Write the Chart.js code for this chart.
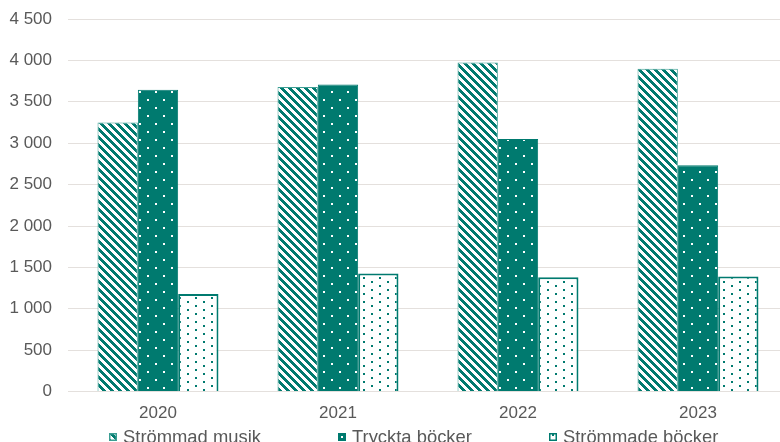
<!DOCTYPE html>
<html>
<head>
<meta charset="utf-8">
<script src="https://cdn.jsdelivr.net/npm/chart.js@4.4.1/dist/chart.umd.min.js"></script>
<style>
  body { margin: 0; overflow: hidden; background: #fff; }
  #wrap { position: relative; width: 788px; height: 442px; }
  #legend {
    position: absolute; left: 109px; top: 427px;
    display: flex; gap: 77px;
    font: 18.4px "Liberation Sans", Arial, sans-serif; line-height: 20px;
    color: #595959; white-space: nowrap;
  }
  .item { display: flex; align-items: center; }
  .item canvas { margin-right: 6px; }
</style>
</head>
<body>
<div id="wrap">
  <canvas id="chart" width="788" height="442"></canvas>
  <div id="legend"></div>
</div>
<script>
const years = ["2020", "2021", "2022", "2023"];
const streamedMusic = [3250, 3680, 3975, 3900];
const printedBooks = [3645, 3710, 3050, 2735];
const streamedBooks = [1180, 1425, 1380, 1390];
const yMax = 4500, yStep = 500;

const teal = "#007a6f";
const grey = "#595959";
const font = "'Liberation Sans', Arial, sans-serif";

const canvas = document.getElementById("chart");
const ctx = canvas.getContext("2d");

function makePattern(w, h, draw) {
    const c = document.createElement("canvas");
    c.width = w; c.height = h;
    draw(c.getContext("2d"));
    return ctx.createPattern(c, "repeat");
}

// diagonal stripes, down to the right
const stripes = makePattern(8, 8, g => {
    g.fillStyle = "#fff"; g.fillRect(0, 0, 8, 8);
    g.fillStyle = teal;
    for (let y = 0; y < 8; y++)
        for (let x = 0; x < 8; x++)
            if ((x - y + 8) % 8 < 4) g.fillRect(x, y, 1, 1);
});

// white dots on teal
const dotsDark = makePattern(16, 16, g => {
    g.fillStyle = teal; g.fillRect(0, 0, 16, 16);
    g.fillStyle = "#fff";
    g.fillRect(3, 3, 2, 2);
    g.fillRect(11, 11, 2, 2);
});

// teal dots on white
const dotsLight = makePattern(16, 8, g => {
    g.fillStyle = "#fff"; g.fillRect(0, 0, 16, 8);
    g.fillStyle = teal;
    g.fillRect(3, 1, 2, 2);
    g.fillRect(11, 5, 2, 2);
});

const chart = new Chart(ctx, {
    type: "bar",
    data: {
        labels: years,
        datasets: [
            { label: "Strömmad musik", data: streamedMusic, backgroundColor: stripes, borderColor: "#3c9e93", borderWidth: 1 },
            { label: "Tryckta böcker", data: printedBooks, backgroundColor: dotsDark, borderColor: teal, borderWidth: 1 },
            { label: "Strömmade böcker", data: streamedBooks, backgroundColor: dotsLight, borderColor: teal, borderWidth: 2 }
        ]
    },
    options: {
        responsive: false,
        animation: false,
        layout: { padding: { top: 19, right: 0, bottom: 6, left: 0 } },
        datasets: { bar: { categoryPercentage: 0.672, barPercentage: 1 } },
        plugins: { legend: { display: false }, tooltip: { enabled: false } },
        scales: {
            x: {
                grid: { display: false, drawTicks: false },
                border: { display: false },
                ticks: { color: grey, font: { family: font, size: 17 }, padding: 12 }
            },
            y: {
                min: 0,
                max: yMax,
                // invisible tick marks keep the labels away from the plot
                grid: { color: "#e4e0dd", drawTicks: true, tickLength: 10, tickColor: "rgba(0,0,0,0)" },
                border: { display: false },
                ticks: {
                    stepSize: yStep,
                    padding: 6,
                    color: grey,
                    font: { family: font, size: 17 },
                    callback: v => String(v).replace(/\B(?=(\d{3})+(?!\d))/g, " ")
                },
                afterFit: s => { s.width = 68; }
            }
        }
    }
});

// legend under the chart
const legend = document.getElementById("legend");
chart.data.datasets.forEach(ds => {
    const item = document.createElement("span");
    item.className = "item";
    const box = document.createElement("canvas");
    box.width = 8; box.height = 8;
    const b = box.getContext("2d");
    b.fillStyle = ds.backgroundColor;
    b.fillRect(0, 0, 8, 8);
    b.strokeStyle = ds.borderColor;
    b.lineWidth = 1.5;
    b.strokeRect(0.75, 0.75, 6.5, 6.5);
    item.appendChild(box);
    item.appendChild(document.createTextNode(ds.label));
    legend.appendChild(item);
});
</script>
</body>
</html>
